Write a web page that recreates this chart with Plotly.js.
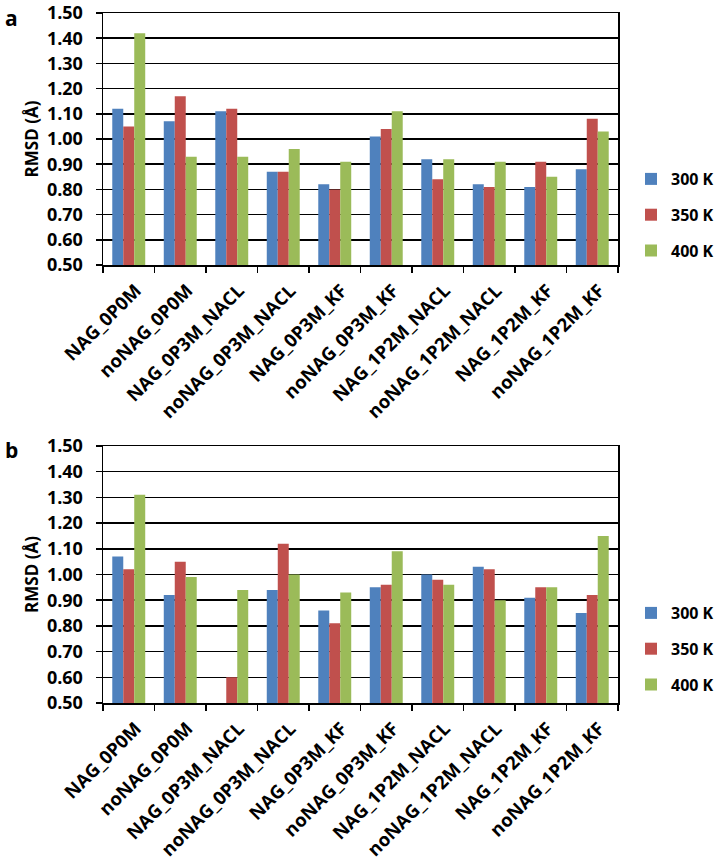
<!DOCTYPE html>
<html>
<head>
<meta charset="utf-8">
<script src="https://cdn.plot.ly/plotly-3.0.1.min.js"></script>
<style>html,body{margin:0;padding:0;background:#fff;}#chart{width:719px;height:860px;}</style>
</head>
<body>
<div id="chart"></div>
<script>
const categories = ["NAG_0P0M","noNAG_0P0M","NAG_0P3M_NACL","noNAG_0P3M_NACL","NAG_0P3M_KF","noNAG_0P3M_KF","NAG_1P2M_NACL","noNAG_1P2M_NACL","NAG_1P2M_KF","noNAG_1P2M_KF"];
const seriesNames = ["300 K","350 K","400 K"];
// Panel a
const a300 = [1.12,1.07,1.11,0.87,0.82,1.01,0.92,0.82,0.81,0.88];
const a350 = [1.05,1.17,1.12,0.87,0.80,1.04,0.84,0.81,0.91,1.08];
const a400 = [1.42,0.93,0.93,0.96,0.91,1.11,0.92,0.91,0.85,1.03];
// Panel b
const b300 = [1.07,0.92,0.50,0.94,0.86,0.95,1.00,1.03,0.91,0.85];
const b350 = [1.02,1.05,0.60,1.12,0.81,0.96,0.98,1.02,0.95,0.92];
const b400 = [1.31,0.99,0.94,1.00,0.93,1.09,0.96,0.90,0.95,1.15];
const yTicks = [0.50,0.60,0.70,0.80,0.90,1.00,1.10,1.20,1.30,1.40,1.50];

const colors = ["#4F81BD","#C0504D","#9BBB59"];
const FONT = "'Open Sans', sans-serif";

const traces = [];
[[a300,a350,a400],[b300,b350,b400]].forEach((set, p) => {
  set.forEach((vals, i) => {
    traces.push({
      type: "bar",
      x: categories,
      y: vals,
      name: seriesNames[i],
      marker: {color: colors[i], line: {width: 0}},
      xaxis: p === 0 ? "x" : "x2",
      yaxis: p === 0 ? "y" : "y2",
      legend: p === 0 ? "legend" : "legend2",
      legendgroup: "g" + p + i,
      hoverinfo: "x+y+name"
    });
  });
});

function xax(anchor) {
  return {
    domain: [103/719, 618/719],
    anchor: anchor,
    type: "category",
    categoryorder: "array",
    categoryarray: categories,
    showline: true, linecolor: "#000", linewidth: 1.5, mirror: true,
    ticks: "outside", tickson: "boundaries", ticklen: 6, tickcolor: "#000", tickwidth: 1.5,
    tickangle: -45,
    ticklabelstandoff: 6,
    ticklabelshift: 7,
    tickfont: {family: FONT, size: 18.5, color: "#000", weight: 700},
    showgrid: false, zeroline: false, fixedrange: true
  };
}
function yax(anchor, dom) {
  return {
    domain: dom,
    anchor: anchor,
    range: [0.5, 1.5],
    tickvals: yTicks,
    ticktext: yTicks.map(v => v.toFixed(2)),
    showline: true, linecolor: "#000", linewidth: 1.5, mirror: true,
    ticks: "outside", ticklen: 6, tickcolor: "#000", tickwidth: 1.5,
    ticklabelstandoff: 9,
    ticklabeloverflow: "allow",
    tickfont: {family: FONT, size: 18, color: "#000", weight: 700},
    showgrid: true, gridcolor: "#000", gridwidth: 1.5,
    zeroline: false, fixedrange: true,
    title: {text: "RMSD (Å)", font: {family: FONT, size: 17, color: "#000", weight: 700}, standoff: 4}
  };
}
function leg(y) {
  return {
    x: 1, xanchor: "right", y: y, yanchor: "top",
    font: {family: FONT, size: 16, color: "#000", weight: 700},
    traceorder: "grouped", tracegroupgap: 12,
    bgcolor: "rgba(0,0,0,0)", borderwidth: 0, itemclick: false, itemdoubleclick: false
  };
}

const layout = {
  width: 719, height: 860,
  margin: {l: 0, r: 0, t: 0, b: 0, autoexpand: false},
  paper_bgcolor: "#fff", plot_bgcolor: "#fff",
  barmode: "group", bargap: 0.36, bargroupgap: 0,
  showlegend: true,
  xaxis: xax("y"),
  yaxis: yax("x", [1 - 265/860, 1 - 13/860]),
  xaxis2: xax("y2"),
  yaxis2: yax("x2", [1 - 703/860, 1 - 446/860]),
  legend: leg(1 - 162/860),
  legend2: leg(1 - 596/860),
  annotations: [
    {text: "a", xref: "paper", yref: "paper", x: 3/719, y: 1 - 2/860, xanchor: "left", yanchor: "top", showarrow: false, font: {family: FONT, size: 21, color: "#000", weight: 700}},
    {text: "b", xref: "paper", yref: "paper", x: 3/719, y: 1 - 434/860, xanchor: "left", yanchor: "top", showarrow: false, font: {family: FONT, size: 21, color: "#000", weight: 700}}
  ]
};

Plotly.newPlot("chart", traces, layout, {displayModeBar: false, staticPlot: true});
</script>
</body>
</html>
